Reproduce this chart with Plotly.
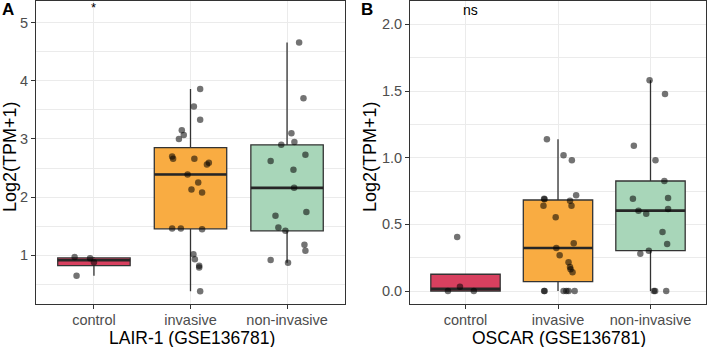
import numpy as np
import plotly.graph_objects as go

W, H = 708, 347

categories = ["control", "invasive", "non-invasive"]
box_colors = ["#D7405F", "#F9AC42", "#A8D6B9"]

# Panel A: LAIR-1 values (Log2(TPM+1)) and horizontal jitter
lair_control = [0.97, 0.95, 0.88, 0.65]
lair_control_jit = [-0.20, -0.04, 0.00, -0.18]
lair_invasive = [3.86, 3.56, 3.33, 3.15, 3.07, 3.00, 2.70, 2.66, 2.66, 2.59, 2.56, 2.39,
                 2.25, 2.13, 2.08, 1.46, 1.46, 1.45, 1.02, 0.93, 0.82, 0.79, 0.38]
lair_invasive_jit = [0.10, 0.035, 0.10, -0.09, -0.07, -0.12, -0.19, -0.18, 0.04, 0.19, 0.17, -0.03,
                     0.08, 0.01, 0.12, -0.19, -0.10, 0.12, 0.03, 0.045, 0.09, 0.09, 0.10]
lair_noninv = [4.66, 3.70, 3.10, 2.95, 2.90, 2.73, 2.62, 2.47, 2.16, 1.745, 1.68, 1.48,
               1.42, 1.18, 1.08, 0.92, 0.87]
lair_noninv_jit = [0.125, 0.17, 0.045, 0.076, -0.06, 0.19, -0.17, 0.066, 0.073, 0.20, -0.12, -0.09,
                   -0.017, 0.18, 0.19, -0.17, 0.01]

# Panel B: OSCAR values
oscar_control = [0.405, 0.0325, 0.0, 0.0]
oscar_control_jit = [-0.09, -0.06, -0.19, 0.09]
oscar_invasive = [1.1375, 1.0175, 0.98, 0.7175, 0.6925, 0.6875, 0.6775, 0.64, 0.64, 0.5525,
                  0.3575, 0.3225, 0.2675, 0.215, 0.18, 0.1625, 0.14, 0.0, 0.0, 0.0, 0.0, 0.0, 0.0]
oscar_invasive_jit = [-0.12, 0.06, 0.15, 0.196, -0.15, -0.146, 0.13, -0.157, 0.146, -0.025,
                      0.17, -0.018, 0.018, 0.114, 0.13, 0.136, 0.157, -0.15, -0.145, 0.06, 0.114, 0.18, 0.09]
oscar_noninv = [1.58, 1.4775, 1.09, 0.98, 0.825, 0.6925, 0.6975, 0.6025, 0.615, 0.58, 0.4425,
                0.3525, 0.3025, 0.28, 0.0, 0.0, 0.0]
oscar_noninv_jit = [-0.01, 0.157, -0.18, 0.054, 0.15, -0.19, 0.19, -0.13, 0.19, -0.046, 0.13,
                    0.18, -0.018, -0.11, 0.036, 0.05, 0.17]

panels = [
    dict(values=[lair_control, lair_invasive, lair_noninv],
         jit=[lair_control_jit, lair_invasive_jit, lair_noninv_jit],
         xaxis="x", yaxis="y", label="*", label_y=5.26, label_x=1.0),
    dict(values=[oscar_control, oscar_invasive, oscar_noninv],
         jit=[oscar_control_jit, oscar_invasive_jit, oscar_noninv_jit],
         xaxis="x2", yaxis="y2", label="ns", label_y=2.11, label_x=1.05),
]

BOX_W = 0.75
fig = go.Figure()

for p in panels:
    # boxes
    for i, (vals, col) in enumerate(zip(p["values"], box_colors)):
        v = np.array(vals)
        q1, med, q3 = np.percentile(v, [25, 50, 75])
        iqr = q3 - q1
        lo = v[v >= q1 - 1.5 * iqr].min()
        hi = v[v <= q3 + 1.5 * iqr].max()
        fig.add_trace(go.Box(
            x=[i + 1], q1=[q1], median=[med], q3=[q3], lowerfence=[lo], upperfence=[hi],
            width=BOX_W, fillcolor=col, line=dict(color="#333333", width=1.3),
            whiskerwidth=0, boxpoints=False, showlegend=False, hoverinfo="skip",
            xaxis=p["xaxis"], yaxis=p["yaxis"]))
        fig.add_trace(go.Scatter(
            x=[i + 1 - BOX_W / 2, i + 1 + BOX_W / 2], y=[med, med], mode="lines",
            line=dict(color="#262626", width=2.6), showlegend=False, hoverinfo="skip",
            xaxis=p["xaxis"], yaxis=p["yaxis"]))
    # jittered points
    for i, (vals, jit) in enumerate(zip(p["values"], p["jit"])):
        fig.add_trace(go.Scatter(
            x=[i + 1 + j for j in jit], y=vals, mode="markers",
            marker=dict(color="rgba(0,0,0,0.55)", size=6.5, line=dict(width=0)),
            showlegend=False, hoverinfo="skip",
            xaxis=p["xaxis"], yaxis=p["yaxis"]))
    # significance label
    fig.add_annotation(x=p["label_x"], y=p["label_y"], text=p["label"], showarrow=False,
                       xref=p["xaxis"], yref=p["yaxis"],
                       font=dict(size=14 if p["label"] == "ns" else 13, color="#000000"))

font_family = "Liberation Sans, Arial, sans-serif"
grid = "#EBEBEB"

def xaxis_style(domain):
    return dict(domain=domain, range=[0.4, 3.6], tickvals=[1, 2, 3], ticktext=categories,
                showgrid=True, gridcolor=grid, gridwidth=1, zeroline=False,
                showline=True, mirror=True, linecolor="#333333", linewidth=1,
                ticks="outside", ticklen=4, tickcolor="#333333", tickwidth=1,
                ticklabelstandoff=-1,
                tickfont=dict(size=14.5, color="#4D4D4D", family=font_family))

def yaxis_style(domain, rng, dtick, anchor):
    return dict(domain=domain, range=rng, dtick=dtick, tick0=0, anchor=anchor,
                showgrid=True, gridcolor=grid, gridwidth=1, zeroline=False,
                minor=dict(showgrid=True, gridcolor=grid, gridwidth=0.5, dtick=dtick / 2),
                showline=True, mirror=True, linecolor="#333333", linewidth=1,
                ticks="outside", ticklen=4, tickcolor="#333333", tickwidth=1,
                tickfont=dict(size=14.5, color="#4D4D4D", family=font_family))

ydom = [43 / H, 346 / H]
xa = xaxis_style([36 / W, 345 / W]); xa["anchor"] = "y"
xb = xaxis_style([410 / W, 706 / W]); xb["anchor"] = "y2"
ya = yaxis_style(ydom, [0.1625, 5.373], 1, "x")
ya["tickformat"] = "d"
yb = yaxis_style(ydom, [-0.0975, 2.175], 0.5, "x2")
yb["tickformat"] = ".1f"

fig.update_layout(
    width=W, height=H, margin=dict(l=0, r=0, t=0, b=0),
    plot_bgcolor="white", paper_bgcolor="white",
    font=dict(family=font_family),
    xaxis=xa, yaxis=ya, xaxis2=xb, yaxis2=yb,
)

def paper_text(px, py, text, size, angle=0):
    fig.add_annotation(x=px / W, y=1 - py / H, xref="paper", yref="paper", text=text,
                       showarrow=False, textangle=angle, xanchor="center", yanchor="middle",
                       font=dict(size=size, color="#000000", family=font_family))

paper_text(8, 9, "<b>A</b>", 17)
paper_text(367, 9, "<b>B</b>", 17)
paper_text(10, 157, "Log2(TPM+1)", 18, angle=-90)
paper_text(370, 157, "Log2(TPM+1)", 18, angle=-90)
paper_text(192, 338, "LAIR-1 (GSE136781)", 17.5)
paper_text(559, 338, "OSCAR (GSE136781)", 17.5)

fig.write_html("out.html",
               config={"displayModeBar": False},
               post_script="document.body.style.margin='0';document.body.style.overflow='hidden';")
